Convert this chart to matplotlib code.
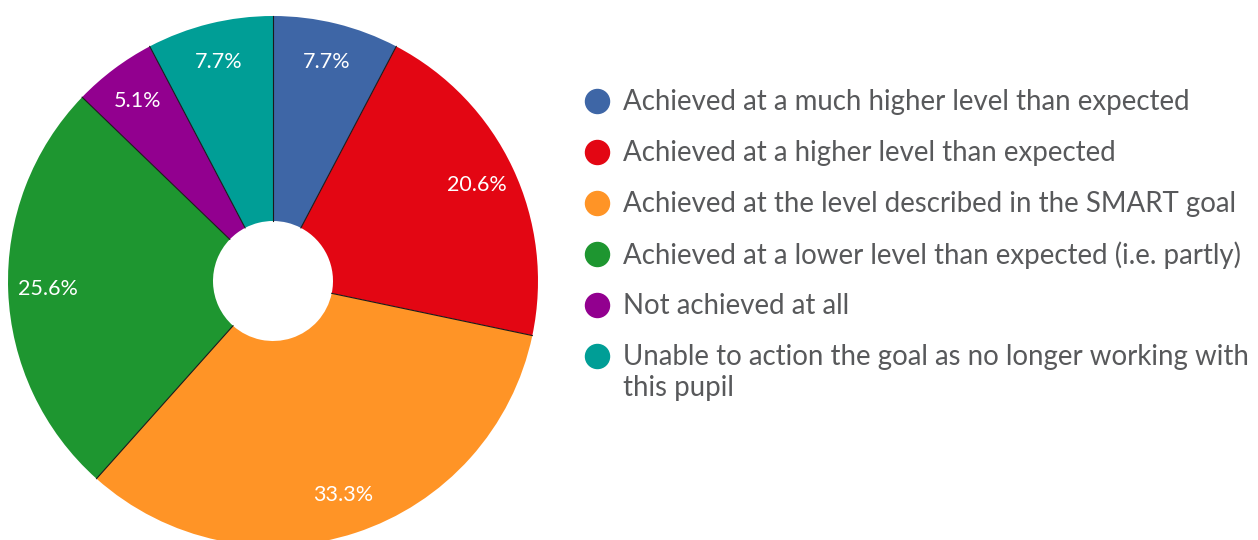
import matplotlib
matplotlib.use("Agg")
import numpy as np
import matplotlib.pyplot as plt

plt.rcParams['font.family'] = ['Lato', 'DejaVu Sans']

labels = [
    "Achieved at a much higher level than expected",
    "Achieved at a higher level than expected",
    "Achieved at the level described in the SMART goal",
    "Achieved at a lower level than expected (i.e. partly)",
    "Not achieved at all",
    "Unable to action the goal as no longer working with\nthis pupil",
]
values = [7.7, 20.6, 33.3, 25.6, 5.1, 7.7]
colors = ["#3E66A6", "#E30613", "#FF9426", "#1E9630", "#92008F", "#009E96"]

W, H = 1258, 540
fig = plt.figure(figsize=(W / 100, H / 100), dpi=100)
ax = fig.add_axes([0, 0, 1, 1])

cx, cy, r, hole = 273, H - 281, 265, 60
wedges, texts, autotexts = ax.pie(
    values, colors=colors, startangle=90, counterclock=False,
    center=(cx, cy), radius=r, autopct='%.1f%%', pctdistance=0.85,
    wedgeprops=dict(width=r - hole, edgecolor='none', linewidth=0),
    textprops=dict(color='white', fontsize=15.5),
)
# thin dark separators between slices
for w in wedges:
    t = np.deg2rad(w.theta1)
    ax.plot([cx + hole * np.cos(t), cx + r * np.cos(t)],
            [cy + hole * np.sin(t), cy + r * np.sin(t)],
            color='#1a1a1a', lw=0.8, zorder=2)

ax.set_xlim(0, W)
ax.set_ylim(0, H)
ax.set_aspect('equal')
ax.axis('off')

# legend
lx, ly, step = 597, H - 101, 51
for i, (lab, col) in enumerate(zip(labels, colors)):
    y = ly - i * step
    ax.scatter([lx], [y], s=24 ** 2 * 0.52, color=col, zorder=3)
    for j, line in enumerate(lab.split('\n')):
        ax.text(lx + 26, y - 1 - j * 31, line, color='#58595B', fontsize=19.9, va='center')

fig.savefig("out.png", dpi=100)
